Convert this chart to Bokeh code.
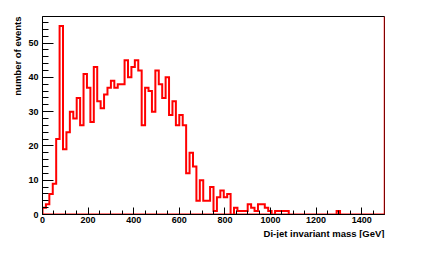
import numpy as np
from bokeh.plotting import figure
from bokeh.models import Range1d, FixedTicker, Title, Span
from bokeh.embed import file_html
from bokeh.resources import INLINE

# Histogram: 100 bins of 15 GeV from 0 to 1500 GeV
bin_lo = 0.0
bin_hi = 1500.0
counts = [
    2, 3, 6, 9, 22, 55, 19, 24, 30, 28,
    34, 26, 41, 37, 27, 43, 33, 31, 35, 37,
    39, 37, 38, 38, 45, 40, 43, 45, 42, 26,
    37, 36, 30, 42, 38, 34, 40, 29, 33, 26,
    29, 26, 12, 18, 14, 4, 10, 4, 4, 8,
    1, 5, 7, 5, 6, 0, 2, 1, 1, 1,
    3, 2, 1, 3, 3, 2, 1, 0, 1, 1,
    1, 1, 0, 0, 0, 0, 0, 0, 0, 0,
    0, 0, 0, 0, 0, 0, 1, 0, 0, 0,
    0, 0, 0, 0, 0, 0, 0, 0, 0, 0,
]
x_major = [0, 200, 400, 600, 800, 1000, 1200, 1400]
y_major = [0, 10, 20, 30, 40, 50]
x_title = "Di-jet invariant mass [GeV]"
y_title = "number of events"

edges = np.linspace(bin_lo, bin_hi, len(counts) + 1)
xs = [edges[0]]
ys = [0]
for i, c in enumerate(counts):
    xs += [edges[i], edges[i + 1]]
    ys += [c, c]
xs.append(edges[-1])
ys.append(0)

ymax = max(counts) * 1.05

p = figure(width=411, height=238, output_backend="svg", toolbar_location=None,
           x_range=Range1d(bin_lo, bin_hi), y_range=Range1d(0, ymax),
           min_border_left=42, min_border_right=27, min_border_top=16,
           min_border_bottom=20)
p.grid.visible = False
p.outline_line_color = "black"
p.outline_line_width = 1
p.background_fill_color = "white"
p.border_fill_color = "white"

p.patch(xs, ys, fill_color=None, line_color="#ff0000", line_width=2,
        line_join="miter")
p.add_layout(Span(location=bin_hi, dimension="height", line_color="#ff0000",
                  line_width=1.5))

font = "Liberation Sans"
for ax in (p.xaxis[0], p.yaxis[0]):
    ax.major_label_text_font = font
    ax.major_label_text_font_style = "bold"
    ax.major_label_text_font_size = "9px"
    ax.major_label_text_color = "black"
    ax.axis_line_color = "black"
    ax.major_tick_line_color = "black"
    ax.minor_tick_line_color = "black"
    ax.major_tick_out = 0
    ax.minor_tick_out = 0

p.xaxis.ticker = FixedTicker(ticks=x_major,
                             minor_ticks=[m for m in range(0, 1501, 50) if m % 200 != 0])
p.yaxis.ticker = FixedTicker(ticks=y_major, minor_ticks=list(range(0, 57, 2)))
p.xaxis.major_tick_in = 7
p.xaxis.minor_tick_in = 4
p.yaxis.major_tick_in = 11
p.yaxis.minor_tick_in = 6
p.xaxis.major_label_standoff = 2
p.yaxis.major_label_standoff = 4

p.add_layout(Title(text=x_title, align="right", text_font=font,
                   text_font_style="bold", text_font_size="9.5px",
                   text_color="black", standoff=0, offset=0), "below")
p.add_layout(Title(text=y_title, align="right", text_font=font,
                   text_font_style="bold", text_font_size="9.5px",
                   text_color="black", standoff=6, offset=0), "left")

open("out.html", "w").write(file_html(p, INLINE))
